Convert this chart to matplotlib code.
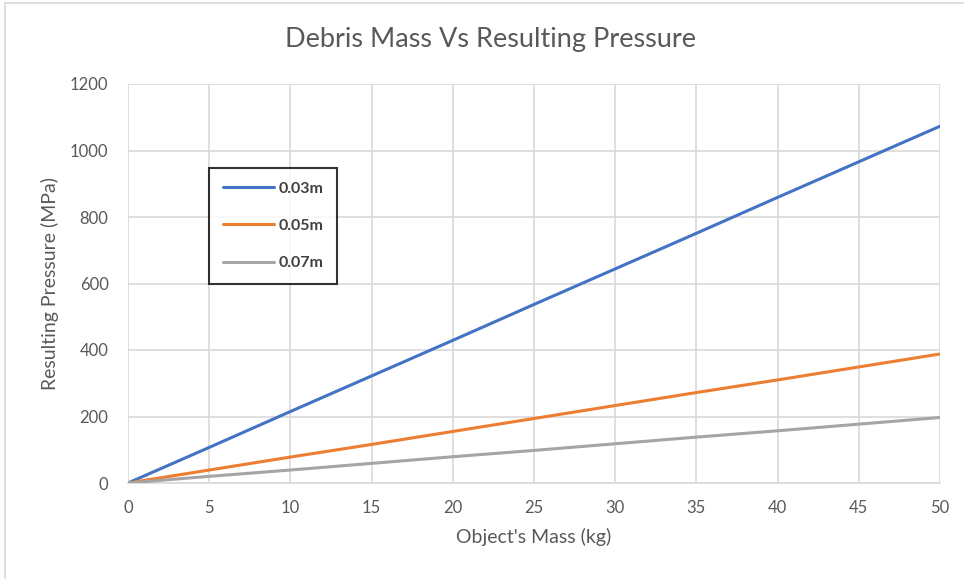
import matplotlib.pyplot as plt
from matplotlib.patches import Rectangle

# mass values (kg) and resulting pressure (MPa) for each debris size
mass = [0, 5, 10, 15, 20, 25, 30, 35, 40, 45, 50]
p_003 = [0, 107, 215, 322, 429, 537, 644, 751, 859, 966, 1073]
p_005 = [0, 39, 78, 116, 155, 194, 233, 272, 310, 349, 388]
p_007 = [0, 20, 39, 59, 79, 98, 118, 138, 157, 177, 197]
labels = ["0.03m", "0.05m", "0.07m"]
colors = ["#4472c4", "#ed7d31", "#a5a5a5"]

plt.rcParams['font.family'] = ['Lato', 'DejaVu Sans']
txt = "#595959"

fig = plt.figure(figsize=(9.64, 5.79), dpi=100)
# chart area border (Excel style)
fig.patches.append(Rectangle((5 / 964, -0.1), 1.2, 1 - 3 / 579 + 0.1,
                             transform=fig.transFigure, fill=False,
                             edgecolor="#d9d9d9", linewidth=1.2))
ax = fig.add_axes([128 / 964, 96 / 579, 812 / 964, 399 / 579])

for ys, lab, c in zip([p_003, p_005, p_007], labels, colors):
    ax.plot(mass, ys, color=c, linewidth=2.2, label=lab, solid_capstyle='round', zorder=3)

ax.set_xlim(0, 50)
ax.set_ylim(0, 1200)
ax.set_xticks(range(0, 51, 5))
ax.set_yticks(range(0, 1201, 200))
ax.grid(True, color="#d9d9d9", linewidth=1.2)
for s in ["top", "right", "left"]:
    ax.spines[s].set_visible(False)
ax.spines["bottom"].set_color("#d9d9d9")
ax.spines["bottom"].set_linewidth(1.2)
ax.tick_params(length=0, labelsize=12, colors=txt, pad=12)
ax.tick_params(axis='y', pad=14)

ax.set_xlabel("Object's Mass (kg)", fontsize=14, color=txt, labelpad=9)
ax.set_ylabel("Resulting Pressure (MPa)", fontsize=14, color=txt, labelpad=8)
fig.text(491 / 964, 1 - 40 / 579, "Debris Mass Vs Resulting Pressure",
         ha="center", va="center", fontsize=19.5, color=txt)

leg = ax.legend(loc="upper left", bbox_to_anchor=(0.09, 0.81), frameon=True,
                fancybox=False, edgecolor="black", handlelength=3.2,
                handletextpad=0.3, labelspacing=1.45, borderpad=0.85,
                prop={'weight': 'bold', 'size': 11.5})
leg.get_frame().set_linewidth(1.5)
for t in leg.get_texts():
    t.set_color("#404040")

fig.savefig("out.png", dpi=100)
